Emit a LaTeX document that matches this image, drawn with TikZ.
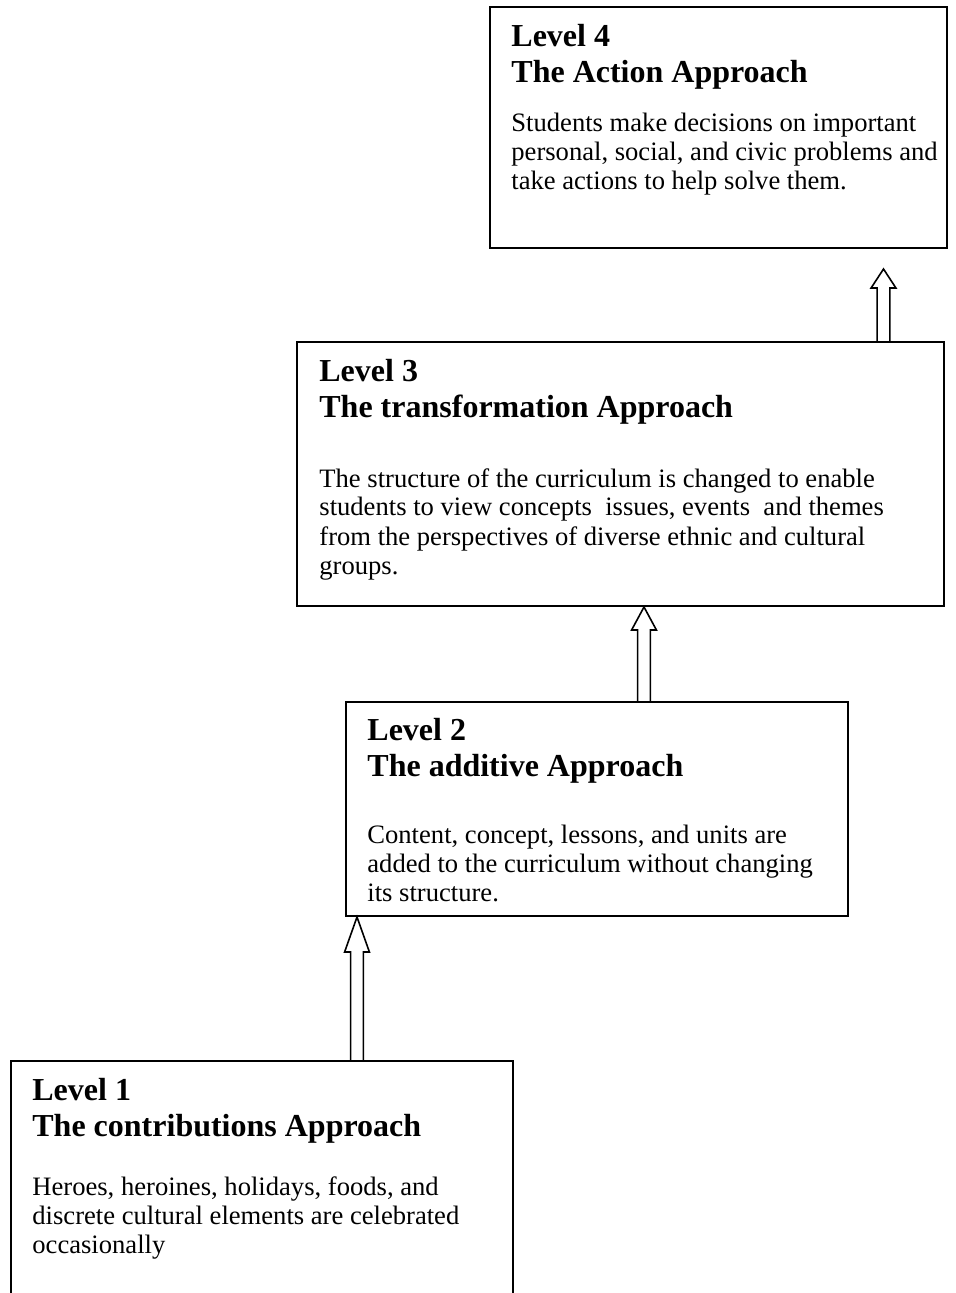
\documentclass[tikz,border=0pt]{standalone}
\usepackage{fontspec}
\setmainfont{Liberation Serif}
\usetikzlibrary{calc,positioning}

\begin{document}
\begin{tikzpicture}
  [x=0.5pt,y=-0.5pt,
   levelbox/.style={draw,line width=1pt,inner sep=0pt,anchor=north west},
   title/.style={anchor=base west,inner sep=0pt,align=left,
     font=\fontsize{16}{18}\selectfont\bfseries},
   body/.style={anchor=base west,inner sep=0pt,align=left,
     font=\fontsize{13.3}{14.5}\selectfont},
   hollow/.style={line width=0.8pt,line join=miter,to path={let \p1=(\tikztostart), \p2=(\tikztotarget) in
     (\x1-3.2pt,\y1) -- (\x1-3.2pt,\y2-#1) -- (\x1-6.2pt,\y2-#1) -- (\x1,\y2)
     -- (\x1+6.2pt,\y2-#1) -- (\x1+3.2pt,\y2-#1) -- (\x1+3.2pt,\y1)}}]
  \clip (0,0) rectangle (956,1293);

  % boxes
  \node[levelbox,minimum width=228.5pt,minimum height=120.5pt] (l4) at (489,6) {};
  \node[levelbox,minimum width=323.5pt,minimum height=132pt] (l3) at (296,341) {};
  \node[levelbox,minimum width=251pt,minimum height=107pt] (l2) at (345,701) {};
  \node[levelbox,minimum width=251pt,minimum height=140pt] (l1) at (10,1060) {};

  % texts (anchored at the baseline of their last line)
  \node[title] (t4) at (511,83) {Level 4\\The Action Approach};
  \node[body] (b4) at (511,190) {Students make decisions on important\\personal, social, and civic problems and\\take actions to help solve them.};
  \node[title] (t3) at (319,418) {Level 3\\The transformation Approach};
  \node[body] (b3) at (319,574) {The structure of the curriculum is changed to enable\\students to view concepts\ \ issues, events\ \ and themes\\from the perspectives of diverse ethnic and cultural\\groups.};
  \node[title] (t2) at (367,776) {Level 2\\The additive Approach};
  \node[body] (b2) at (367,901) {Content, concept, lessons, and units are\\added to the curriculum without changing\\its structure.};
  \node[title] (t1) at (32,1136) {Level 1\\The contributions Approach};
  \node[body] (b1) at (32,1253) {Heroes, heroines, holidays, foods, and\\discrete cultural elements are celebrated\\occasionally};

  % arrows
  \coordinate (a1) at (357,0);
  \coordinate (a2) at (644,0);
  \coordinate (tip4) at (883.5,269);
  \draw[hollow=17.5pt] (a1 |- l1.north) to (a1 |- l2.south);
  \draw[hollow=11.5pt] (a2 |- l2.north) to (a2 |- l3.south);
  \draw[hollow=9.5pt] (tip4 |- l3.north) to (tip4);
\end{tikzpicture}
\end{document}
